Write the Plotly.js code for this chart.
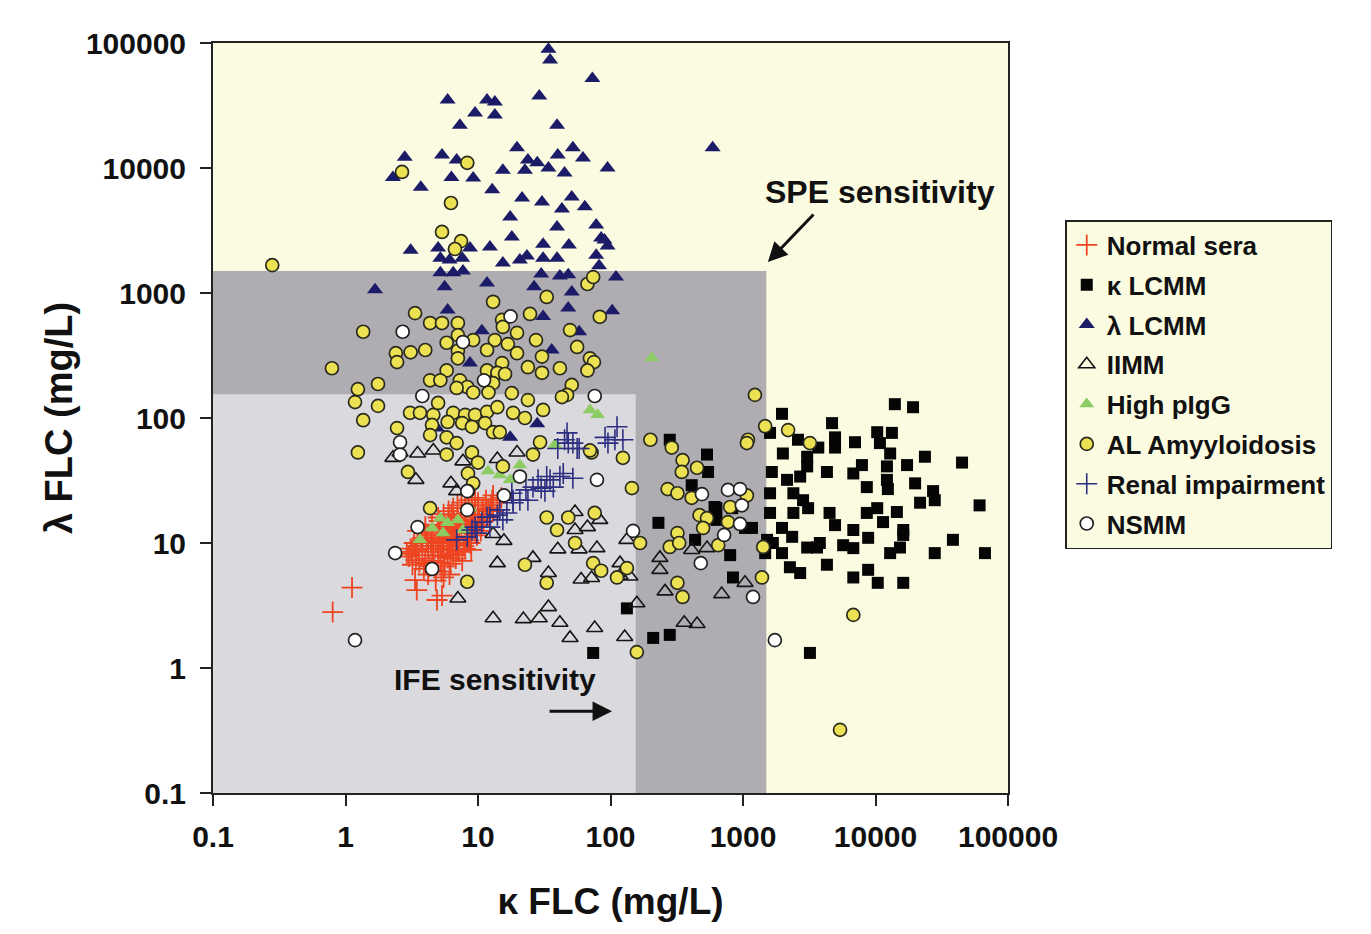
<!DOCTYPE html>
<html><head><meta charset="utf-8">
<script src="https://cdn.plot.ly/plotly-3.0.1.min.js"></script>
<style>html,body{margin:0;padding:0;background:#fff;}#chart{width:1371px;height:934px;}</style>
</head><body><div id="chart"></div>
<script>
// ---- tick labels ----
const tickValues = [0.1, 1, 10, 100, 1000, 10000, 100000];
const tickLabels = ["0.1", "1", "10", "100", "1000", "10000", "100000"];

// ---- sensitivity limits (mg/L) ----
const SPE_LIMIT = 1500;
const IFE_LIMIT = 155;
const AXIS_MIN = 0.1;

// ---- Normal sera ----
const normalKappa = [5.5,6,6.5,5,4.5,7,6,5.5,4.8,6.8,7.5,8,4.2,3.8,4,5,5.8,6.2,7.2,8.5,9,8.8,10,9.5,10.5,11,12,7,6,5,4.5,3.5,3.6,4.3,5.2,6.5,7.8,8.2,3.2,3,3.3,4,5.5,6.6,7.5,8,9,10,11.5,13,12.5,14,15,13,11,9.5,6.8,5.6,4.8,4.2,4.8,3.9,7.2,8.7,9.8,10.5,6,5.2,6.4,7,5.8,4.6,5.4,6.9,7.9,9.2,3.8,4.1,3.4,5.9,6.2,7.6,8.9,10.8,12.2,6.3,5.1,5.3,5.5,6.1,
  3.5,4,4.5,5,5.5,6,6.5,7,7.5,8.5,9.5,4.2,3.7,3.1,2.9,3.4,4,4.6,5.5,6.2,7,8,8.5,9.3,10.2,11.5,12.8,5.2,6.7,7.3,4.4,5,6,
  1.12,0.8,3.2,3.35,3.45,5.35,4.9];
const normalLambda = [10,11,12,9,8.5,12.5,9.5,11.5,10,10.5,13,14,9,8,7.5,8,8.8,13.5,11,12,15,13.5,16,18,14,17,19,16,14.5,12.5,11,9.5,7,6.5,7,8,9.5,11,8.5,7.8,10,12,13.5,15,17,19,20,21,22,24,20,21,23,18,15,12.5,7.5,6.5,6,5.6,5,6.2,8.5,10,11.5,12.5,10.2,10.6,11,9.7,12.3,9.5,9,13.8,15.4,16.8,11,10.3,8.8,7.6,6.8,7.2,8.8,18.5,16,16.8,15,5.9,5.3,5.6,
  12.5,13.5,14,16,17,18,19,20,21,22,23,11.5,10.5,9,8.2,7.3,6.8,7.2,7.8,8.2,8.8,9,10.5,13.8,15.2,20,22,10,11.2,14.5,10,13,15.8,
  4.4,2.8,6.7,5.05,4.2,3.8,3.5];

// ---- kappa LCMM ----
const kLcmmKappa = [14000,19200,1970,4700,1600,2600,4950,4950,7000,10300,13300,10800,3700,280,2000,3050,12900,23600,45000,535,545,1650,3050,4300,6800,7900,12200,17300,2150,2700,12200,19900,410,1600,2400,2840,8600,12400,27200,28000,21700,61000,630,830,1600,2400,3100,4500,8600,10300,14500,230,630,1170,1970,4950,6800,11400,16200,38400,435,1520,2350,8800,3620,5700,15300,28000,67000,12900,16200,6800,4300,6800,8800,10400,16200,2700,2260,1970,1470,1680,3800,3050,800,840,133,210,280,3200,74,610,1035];
const kLcmmLambda = [129,122,108,91,76,67,70,58,64,77,76,63,58,67,52,49,52,49,44,51,37,37,41,37,36,42,41,42,32,34,32,30,29,25,25,22,28,27,26,22,21,20,19,19,17.4,17.4,19,17.4,17.4,19,17.7,14.5,15.3,13.2,13.2,13.9,12.7,14.7,12.7,10.6,10.6,10.6,11.2,11,9.2,9.6,9.2,8.3,8.3,8.3,11.6,9.1,6.7,5.3,6.1,4.8,4.8,5.75,6.4,8.3,8.3,10,10,9.2,8.0,5.3,3.0,1.74,1.84,1.32,1.32,19.4,13.2];

// ---- lambda LCMM ----
const lLcmmKappa = [34,35,73,5.9,11.7,13.4,29,9.5,13.4,7.3,39.5,2.8,5.35,6.9,19.7,23.8,28,40,52,62,15.4,22.6,34,45,95,2.28,6.3,9.2,3.7,12.8,21.5,30.4,51,43,64,17.5,78,18,39.5,85,3.1,5.0,8.7,12.3,31,48.5,95,15.4,20.7,23.4,31,39.5,78,82,5.2,6.5,7.7,30,41.5,48,110,1.67,5.6,11.7,26.5,51,5.9,31,48,103,10.7,58,8.7,36,28,17.5,590,90,4.9,5.2,6.1,7.6];
const lLcmmLambda = [89000,73000,52000,35000,35000,33700,37700,27500,26600,22000,22000,12200,12700,11600,14500,11600,11000,12700,14500,12000,9600,9600,10000,9100,10000,8400,8400,8300,7000,6700,5750,5350,5850,4700,4900,4060,3500,2800,3370,2750,2200,2290,2290,2330,2460,2420,2380,1740,1840,1980,1900,1900,2000,1650,1450,1450,1500,1420,1370,1400,1340,1060,1120,1200,1120,1020,730,650,760,720,500,490,275,350,90,70,14500,2650,83,1900,1840,1900];

// ---- IIMM ----
const iimmKappa = [2.28,2.58,3.5,4.6,7.7,19.7,14,3.4,6.25,6.9,13,15.7,54,67,83,54,14,26,34,40,79,58,60,72,118,118,140,7.05,34,13,22,29,41.5,49.5,76,236,236,258,158,128,360,450,410,535,690,1035,133];
const iimmLambda = [48,53,52,55,45,53,47,32,30,26,11.8,10.4,17.7,13.4,15.3,12.7,6.9,7.6,5.75,8.9,9.1,8.9,5.1,5.25,6.9,5.5,5.4,3.6,3.07,2.5,2.46,2.5,2.3,1.74,2.09,7.6,6.1,4.1,3.3,1.77,2.3,2.25,8.8,9.1,3.9,4.8,10.6];

// ---- High pIgG ----
const pigKappa = [205,70,80,38,11.9,14.6,17.5,20.7,3.65,5.45,5.9,7.05,8.7,5.2,4.5,7.7];
const pigLambda = [302,116,106,61,37.7,35,32,42,10.6,12,14.5,15.3,19,15.8,13.2,12.7];

// ---- AL Amyloidosis ----
const alKappa = [0.28,2.67,8.3,6.25,5.35,7.45,6.7,33,67,74,13,3.35,24.7,83,15.2,15.4,4.35,5.35,7.05,1.36,49.5,56,19.7,27.4,7.05,9.2,13.4,16.8,5.8,11.7,7.05,19.7,30.4,2.4,2.45,3.1,4.0,7.05,70,41.5,75,15.2,23.8,67,5.8,11.7,14,16,30.4,1.76,4.35,5.2,7.3,8.3,13,6.9,9.2,18,51,47,12,0.79,1.24,1.18,1.76,1.36,1.24,2.45,3.07,3.65,4.6,5.0,6.5,8.0,9.5,11.7,14,18.4,22.6,4.5,5.9,7.6,9.0,11.3,13,14.6,5.8,4.35,6.9,5.8,9.0,10,15.4,26,29.4,72,2.96,8.4,9.2,8.4,4.35,33,48,76,39.5,54,8.3,22.6,33,74,85,112,133,145,70,124,200,290,350,345,450,270,320,410,470,535,800,1070,1090,770,500,320,280,330,650,1420,1390,167,320,350,158,1230,1470,2190,3200,1070,6800,5400,23.8,31,43];
const alLambda = [1670,9300,11000,5250,3080,2600,2250,930,1180,1340,850,690,680,645,610,535,575,575,575,490,505,370,480,420,460,420,420,390,400,350,345,330,310,330,280,335,350,300,300,250,280,275,255,240,240,240,230,225,230,187,200,200,200,177,190,174,160,158,184,153,160,250,170,134,125,96,53,83,110,110,106,132,110,106,106,112,122,110,100,88,93,91,85,91,77,77,70,73,63,51,53,44,41,51,64,53,37,36,30,26,19,16,16,17.4,12.7,10,4.9,6.7,4.8,6.9,6.0,5.3,6.3,27.5,55,48,67,58,46,37,40,27,25,23,16.7,15.8,19.4,24,67,14.7,13.2,12,9.3,10,9.6,9.3,5.3,10,4.8,3.7,1.34,153,86,80,63,63,2.66,0.32,139,116,147];

// ---- Renal impairment ----
const renalKappa = [47,48,56,91,108,112,28.4,35,26,32,41.5,23.8,18.4,14.6,15.4,12.3,9.8,45,52,40,95.7,124,33,30,37,23,18.4,16.5,14,11.7,12.3,9.5,8.3,6.9,18,20.7,58,52,44,10.7,9.0];
const renalLambda = [76,63,57,70,67,85,32,32,28,26,34,22,22,18.4,15.3,16.1,12,67,63,57,63,67,34,27.5,28,26.6,21,17.4,16.7,16.1,13.4,13.4,11.2,10.6,25,22,57,33,36,14.7,12.7];

// ---- NSMM ----
const nsmmKappa = [17.6,2.7,7.7,11.1,3.8,76,2.58,2.58,20.7,79,8.3,15.7,8.3,3.5,2.37,4.5,1.18,490,770,950,980,950,720,148,480,1190,1740];
const nsmmLambda = [650,490,405,200,150,150,64,51,34,32,26,24,18.4,13.4,8.3,6.2,1.67,24.6,26.6,27,20,14.2,11.6,12.5,6.9,3.7,1.67];

function series(name, xs, ys, marker) {
  return {type:'scatter', mode:'markers', name:name, x:xs, y:ys, marker:marker,
          legendgroup:name, hoverinfo:'x+y+name'};
}

const data = [
  series('Normal sera', normalKappa, normalLambda, {symbol:'cross-thin-open', size:15, line:{color:'#ee4420', width:1.8}, color:'#ee4420'}),
  series('κ LCMM', kLcmmKappa, kLcmmLambda, {symbol:'square', size:12, color:'#050505', line:{width:0}}),
  series('λ LCMM', lLcmmKappa, lLcmmLambda, {symbol:'triangle-up', size:14, color:'#1b1b68', line:{width:0}}),
  series('IIMM', iimmKappa, iimmLambda, {symbol:'triangle-up-open', size:14, color:'#151515', line:{color:'#151515', width:1.6}}),
  series('High pIgG', pigKappa, pigLambda, {symbol:'triangle-up', size:13, color:'#8ccc62', line:{width:0}}),
  series('AL Amyyloidosis', alKappa, alLambda, {symbol:'circle', size:13, color:'#ebe152', line:{color:'#2a2a20', width:1.7}}),
  series('Renal impairment', renalKappa, renalLambda, {symbol:'cross-thin-open', size:15, color:'#2f2f82', line:{color:'#2f2f82', width:1.6}}),
  series('NSMM', nsmmKappa, nsmmLambda, {symbol:'circle', size:13, color:'#ffffff', line:{color:'#222222', width:1.7}})
];

const layout = {
  width:1371, height:934,
  margin:{l:213, r:363, t:43, b:141, pad:0},
  paper_bgcolor:'#ffffff', plot_bgcolor:'#fbfbe2',
  font:{family:'Liberation Sans, Arial, sans-serif', color:'#111'},
  showlegend:true,
  xaxis:{type:'log', range:[-1,5], tickvals:tickValues, ticktext:tickLabels,
    ticks:'outside', ticklen:11, tickwidth:2, tickcolor:'#222',
    showline:true, linecolor:'#222', linewidth:2, mirror:true,
    showgrid:false, zeroline:false, ticklabelstandoff:5,
    tickfont:{size:30, weight:'bold', color:'#111'},
    title:{text:'κ FLC (mg/L)', font:{size:37, weight:'bold', color:'#111'}, standoff:36}},
  yaxis:{type:'log', range:[-1,5], tickvals:tickValues, ticktext:tickLabels,
    ticks:'outside', ticklen:11, tickwidth:2, tickcolor:'#222',
    showline:true, linecolor:'#222', linewidth:2, mirror:true,
    showgrid:false, zeroline:false, ticklabelstandoff:8,
    tickfont:{size:30, weight:'bold', color:'#111'},
    title:{text:'λ FLC (mg/L)', font:{size:38, weight:'bold', color:'#111'}, standoff:2}},
  legend:{x:1.072, y:0.764, xanchor:'left', yanchor:'top', bgcolor:'#fbfbe2',
    bordercolor:'#222', borderwidth:1.5, font:{size:26, weight:'bold', color:'#111'},
    traceorder:'grouped', tracegroupgap:3},
  shapes:[
    {type:'rect', xref:'x', yref:'y', layer:'below', x0:AXIS_MIN, x1:SPE_LIMIT, y0:AXIS_MIN, y1:SPE_LIMIT,
     fillcolor:'#afadb2', line:{width:0}},
    {type:'rect', xref:'x', yref:'y', layer:'below', x0:AXIS_MIN, x1:IFE_LIMIT, y0:AXIS_MIN, y1:IFE_LIMIT,
     fillcolor:'#dadade', line:{width:0}}
  ],
  annotations:[
    {xref:'paper', yref:'paper', x:0.839, y:0.801, xanchor:'center', yanchor:'middle',
     text:'<b>SPE sensitivity</b>', showarrow:false, font:{size:32, color:'#111'}},
    {xref:'paper', yref:'paper', x:0.698, y:0.708, text:'', showarrow:true, ax:47, ay:-49,
     arrowhead:2, arrowsize:1.3, arrowwidth:3, arrowcolor:'#111'},
    {xref:'paper', yref:'paper', x:0.355, y:0.151, xanchor:'center', yanchor:'middle',
     text:'<b>IFE sensitivity</b>', showarrow:false, font:{size:30, color:'#111'}},
    {xref:'paper', yref:'paper', x:0.502, y:0.109, text:'', showarrow:true, ax:-64, ay:0,
     arrowhead:2, arrowsize:1.3, arrowwidth:3, arrowcolor:'#111'}
  ]
};

Plotly.newPlot('chart', data, layout, {displayModeBar:false, staticPlot:true});
</script></body></html>
